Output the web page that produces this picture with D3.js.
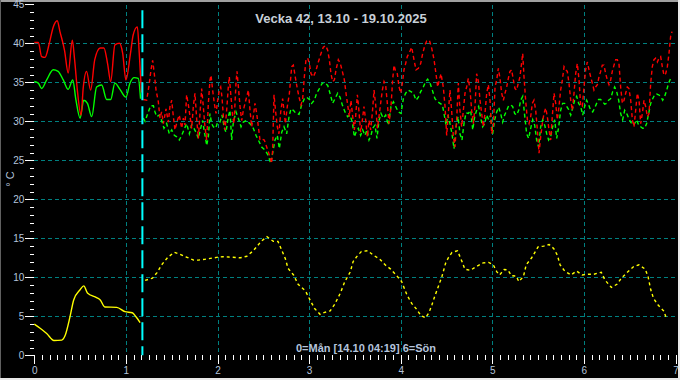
<!DOCTYPE html>
<html>
<head>
<meta charset="utf-8">
<script src="https://cdn.jsdelivr.net/npm/d3@7"></script>
<style>
  html, body { margin: 0; padding: 0; background: #000; }
  svg { display: block; }
</style>
</head>
<body>
<svg id="chart" width="680" height="380"></svg>
<script>
// dag (0 = måndag), °C
const title = 'Vecka 42, 13.10 - 19.10.2025'
const footer = '0=Mån [14.10 04:19] 6=Sön'
const unit = '° C'
const now = 1.18 // 14.10 04:19
const dayTicks = [0, 1, 2, 3, 4, 5, 6, 7]
const tempTicks = [0, 5, 10, 15, 20, 25, 30, 35, 40, 45]

const redActual = [
  [0, 40.1], [0.044, 40.1], [0.08, 38.3], [0.117, 38.2], [0.164, 40.0], [0.207, 42.1], [0.25, 42.9],
  [0.28, 41.5], [0.33, 39.1], [0.37, 36.2], [0.415, 40.4], [0.44, 37.9], [0.47, 34.0], [0.51, 30.8],
  [0.535, 34.4], [0.57, 36.4], [0.615, 34.0], [0.66, 37.9], [0.72, 39.4], [0.76, 39.4], [0.80, 37.4],
  [0.834, 35.1], [0.88, 39.8], [0.93, 40.0], [0.965, 38.7], [1.0, 35.3], [1.05, 38.7], [1.08, 41.1],
  [1.125, 42.1], [1.146, 38.7], [1.17, 33.7]
]
const greenActual = [
  [0, 35.1], [0.044, 34.9], [0.08, 34.2], [0.135, 35.3], [0.207, 36.6], [0.26, 36.4], [0.316, 35.3],
  [0.37, 34.1], [0.42, 35.3], [0.455, 32.7], [0.5, 30.4], [0.54, 32.7], [0.58, 32.3], [0.627, 30.6],
  [0.68, 34.4], [0.736, 34.65], [0.79, 32.8], [0.834, 32.8], [0.88, 34.9], [0.935, 34.1], [1.0, 33.1],
  [1.045, 34.9], [1.09, 35.6], [1.135, 35.5], [1.16, 32.9]
]
const yellowActual = [
  [0, 4.0], [0.06, 3.5], [0.135, 2.8], [0.215, 1.9], [0.30, 1.95], [0.335, 2.5], [0.39, 4.95],
  [0.43, 7.1], [0.5, 8.4], [0.54, 8.9], [0.58, 8.0], [0.68, 7.4], [0.72, 7.1], [0.77, 6.2],
  [0.9, 6.15], [0.99, 5.6], [1.07, 5.45], [1.11, 4.95], [1.155, 4.2]
]

const redForecast = [
  [1.190, 32.8], [1.227, 32.7], [1.256, 34.9], [1.274, 36.6], [1.292, 37.8], [1.310, 36.1], [1.329, 34.0],
  [1.354, 32.5], [1.372, 30.4], [1.390, 31.2], [1.409, 29.7], [1.438, 31.6], [1.463, 29.9], [1.481, 31.9],
  [1.500, 32.7], [1.518, 30.6], [1.536, 28.9], [1.562, 30.1], [1.583, 30.8], [1.609, 29.1], [1.627, 30.4],
  [1.645, 29.5], [1.663, 33.4], [1.682, 32.1], [1.700, 30.6], [1.718, 29.1], [1.736, 31.9], [1.754, 33.6],
  [1.772, 30.4], [1.791, 27.8], [1.809, 31.0], [1.827, 34.2], [1.845, 31.9], [1.863, 29.3], [1.882, 27.6],
  [1.900, 32.3], [1.918, 35.3], [1.929, 35.9], [1.947, 34.0], [1.965, 32.3], [1.984, 31.0], [2.002, 32.7],
  [2.020, 34.0], [2.035, 34.4], [2.049, 33.1], [2.064, 30.6], [2.082, 28.9], [2.100, 31.4], [2.118, 34.4],
  [2.129, 35.7], [2.144, 33.6], [2.166, 30.6], [2.180, 29.7], [2.202, 34.9], [2.213, 36.4], [2.231, 34.0],
  [2.246, 31.9], [2.264, 30.1], [2.282, 31.4], [2.300, 32.3], [2.318, 33.1], [2.337, 34.0], [2.355, 31.4],
  [2.373, 29.3], [2.391, 30.6], [2.409, 32.3], [2.428, 31.0], [2.446, 29.3], [2.464, 27.6], [2.489, 27.7],
  [2.511, 27.6], [2.537, 26.7], [2.555, 26.1], [2.573, 25.4], [2.591, 24.6], [2.602, 26.3], [2.617, 33.4],
  [2.635, 31.2], [2.653, 29.3], [2.671, 28.4], [2.690, 31.2], [2.711, 32.9], [2.726, 31.4], [2.741, 29.7],
  [2.762, 31.9], [2.784, 33.5], [2.810, 37.0], [2.828, 37.2], [2.846, 35.9], [2.868, 34.4], [2.890, 33.1],
  [2.912, 32.1], [2.930, 32.9], [2.948, 35.7], [2.966, 37.9], [2.984, 38.1], [3.003, 37.4], [3.021, 36.1],
  [3.046, 35.7], [3.072, 36.4], [3.101, 37.6], [3.130, 38.7], [3.155, 39.5], [3.181, 39.7], [3.203, 39.1],
  [3.221, 37.9], [3.239, 36.1], [3.257, 35.1], [3.276, 35.3], [3.294, 36.6], [3.319, 37.9], [3.341, 37.4],
  [3.363, 36.4], [3.385, 35.3], [3.403, 33.6], [3.421, 32.1], [3.439, 30.6], [3.457, 32.7], [3.476, 30.6],
  [3.494, 28.9], [3.508, 30.6], [3.527, 33.4], [3.545, 31.2], [3.563, 28.6], [3.581, 30.1], [3.599, 31.9],
  [3.618, 30.1], [3.636, 28.0], [3.654, 30.1], [3.672, 28.9], [3.690, 31.0], [3.709, 34.0], [3.727, 32.1],
  [3.745, 29.1], [3.763, 30.6], [3.781, 32.3], [3.800, 34.0], [3.818, 35.1], [3.836, 34.6], [3.854, 32.3],
  [3.872, 29.7], [3.894, 31.9], [3.912, 35.3], [3.927, 37.2], [3.945, 36.4], [3.963, 36.1], [3.982, 34.4],
  [4.000, 33.6], [4.018, 34.9], [4.036, 36.6], [4.054, 37.4], [4.072, 38.3], [4.094, 38.8], [4.120, 39.5],
  [4.145, 37.9], [4.167, 36.6], [4.193, 36.8], [4.218, 37.4], [4.240, 38.7], [4.265, 39.8], [4.284, 40.3],
  [4.313, 40.4], [4.338, 39.4], [4.364, 37.9], [4.385, 36.1], [4.404, 34.4], [4.422, 35.3], [4.440, 36.1],
  [4.465, 34.4], [4.484, 31.9], [4.502, 28.2], [4.520, 31.0], [4.538, 34.0], [4.556, 31.4], [4.575, 28.0],
  [4.593, 26.7], [4.611, 30.2], [4.629, 34.9], [4.647, 31.4], [4.666, 29.3], [4.684, 31.4], [4.702, 33.6],
  [4.720, 34.4], [4.738, 35.5], [4.757, 34.0], [4.775, 31.4], [4.793, 29.7], [4.811, 31.9], [4.829, 36.1],
  [4.848, 35.1], [4.866, 32.7], [4.884, 31.0], [4.902, 29.3], [4.920, 31.0], [4.939, 33.6], [4.957, 34.7],
  [4.975, 32.7], [4.993, 28.4], [5.011, 29.3], [5.030, 34.4], [5.048, 35.3], [5.066, 36.8], [5.084, 35.5],
  [5.102, 33.6], [5.121, 32.7], [5.139, 33.6], [5.157, 34.4], [5.175, 35.5], [5.193, 36.4], [5.211, 36.6],
  [5.230, 35.3], [5.248, 34.2], [5.266, 34.0], [5.284, 34.9], [5.302, 35.7], [5.321, 37.6], [5.332, 38.7],
  [5.346, 35.7], [5.364, 32.7], [5.383, 30.2], [5.401, 29.7], [5.419, 30.6], [5.437, 32.3], [5.455, 32.7],
  [5.474, 31.4], [5.492, 28.9], [5.510, 25.9], [5.528, 28.0], [5.546, 29.7], [5.564, 31.0], [5.583, 31.7],
  [5.601, 30.6], [5.619, 28.9], [5.637, 27.6], [5.655, 30.6], [5.674, 33.6], [5.692, 32.3], [5.710, 30.2],
  [5.728, 31.9], [5.746, 34.0], [5.765, 35.3], [5.783, 37.0], [5.801, 36.6], [5.819, 36.4], [5.837, 34.9],
  [5.856, 32.7], [5.874, 31.4], [5.892, 33.6], [5.910, 36.1], [5.928, 37.4], [5.947, 35.3], [5.965, 31.9],
  [5.983, 31.9], [6.001, 34.4], [6.019, 36.6], [6.037, 37.6], [6.056, 36.6], [6.074, 35.7], [6.092, 34.9],
  [6.110, 34.0], [6.128, 34.4], [6.147, 34.7], [6.165, 35.7], [6.183, 36.4], [6.201, 37.2], [6.219, 37.2],
  [6.238, 36.1], [6.256, 35.3], [6.274, 34.7], [6.292, 35.3], [6.310, 36.4], [6.329, 37.2], [6.347, 37.9],
  [6.365, 37.9], [6.383, 37.4], [6.401, 34.4], [6.420, 32.3], [6.438, 32.7], [6.456, 33.6], [6.474, 34.4],
  [6.492, 34.2], [6.511, 32.7], [6.529, 30.2], [6.547, 29.3], [6.565, 31.4], [6.583, 33.6], [6.602, 32.7],
  [6.620, 29.7], [6.638, 31.0], [6.656, 32.7], [6.674, 31.9], [6.693, 30.6], [6.711, 31.0], [6.729, 34.9],
  [6.747, 37.0], [6.765, 37.9], [6.783, 38.1], [6.802, 37.6], [6.820, 38.1], [6.838, 38.3], [6.856, 37.0],
  [6.874, 35.9], [6.893, 36.1], [6.911, 37.0], [6.929, 38.7], [6.947, 40.9], [6.962, 41.5]
]

const greenForecast = [
  [1.190, 30.4], [1.209, 30.0], [1.245, 31.2], [1.270, 32.0], [1.300, 32.0], [1.318, 31.2], [1.336, 30.6],
  [1.365, 30.8], [1.390, 30.1], [1.416, 29.1], [1.445, 29.7], [1.474, 28.4], [1.500, 28.9], [1.529, 28.2],
  [1.554, 28.0], [1.583, 27.6], [1.609, 28.2], [1.634, 28.9], [1.663, 29.7], [1.693, 28.4], [1.718, 29.5],
  [1.743, 29.1], [1.765, 28.6], [1.791, 27.8], [1.816, 29.1], [1.838, 30.1], [1.853, 28.9], [1.882, 26.9],
  [1.900, 28.0], [1.918, 31.0], [1.936, 29.7], [1.955, 29.3], [1.980, 29.1], [2.002, 29.9], [2.027, 29.9],
  [2.049, 30.8], [2.075, 29.1], [2.093, 28.6], [2.118, 30.6], [2.136, 31.4], [2.155, 27.6], [2.173, 29.9],
  [2.202, 31.2], [2.227, 30.4], [2.257, 29.3], [2.282, 29.9], [2.318, 30.1], [2.355, 29.7], [2.391, 29.1],
  [2.420, 28.2], [2.446, 27.6], [2.482, 26.7], [2.519, 26.3], [2.555, 25.6], [2.580, 24.6], [2.602, 25.9],
  [2.628, 27.6], [2.653, 28.2], [2.675, 26.5], [2.701, 28.6], [2.726, 29.3], [2.755, 28.4], [2.781, 30.6],
  [2.802, 31.6], [2.828, 31.4], [2.857, 31.0], [2.890, 30.9], [2.919, 32.1], [2.948, 32.9], [2.973, 33.1],
  [3.003, 32.8], [3.028, 32.3], [3.057, 32.7], [3.083, 33.6], [3.112, 34.2], [3.144, 34.9], [3.174, 34.9],
  [3.203, 34.6], [3.228, 33.6], [3.257, 32.3], [3.283, 32.9], [3.312, 33.6], [3.337, 33.1], [3.363, 32.1],
  [3.392, 31.2], [3.421, 30.6], [3.446, 30.8], [3.472, 29.9], [3.494, 28.0], [3.512, 28.6], [3.537, 29.1],
  [3.563, 28.2], [3.585, 28.9], [3.610, 28.2], [3.632, 28.9], [3.654, 27.6], [3.676, 28.2], [3.694, 29.1],
  [3.719, 29.5], [3.741, 27.8], [3.763, 30.1], [3.785, 31.0], [3.810, 30.4], [3.836, 30.8], [3.865, 29.5],
  [3.894, 31.9], [3.920, 32.5], [3.945, 31.9], [3.974, 31.2], [4.003, 31.0], [4.029, 32.9], [4.054, 33.6],
  [4.083, 34.0], [4.112, 33.8], [4.138, 33.6], [4.167, 32.7], [4.193, 33.1], [4.218, 33.8], [4.247, 34.4],
  [4.273, 35.1], [4.294, 35.4], [4.320, 34.9], [4.345, 34.0], [4.374, 32.9], [4.404, 32.5], [4.429, 32.3],
  [4.455, 32.1], [4.473, 31.0], [4.495, 29.5], [4.516, 30.8], [4.538, 29.7], [4.560, 28.4], [4.582, 26.5],
  [4.604, 29.3], [4.626, 30.6], [4.647, 28.4], [4.669, 27.6], [4.691, 29.7], [4.713, 31.1], [4.738, 31.0],
  [4.764, 31.4], [4.786, 28.9], [4.808, 30.6], [4.829, 31.4], [4.851, 31.9], [4.873, 30.4], [4.895, 29.3],
  [4.917, 29.7], [4.938, 30.8], [4.960, 30.2], [4.982, 30.8], [5.004, 28.4], [5.026, 30.2], [5.048, 31.2],
  [5.070, 31.8], [5.091, 31.0], [5.113, 29.9], [5.135, 30.8], [5.157, 31.4], [5.179, 32.0], [5.201, 32.1],
  [5.222, 31.9], [5.244, 31.0], [5.266, 30.8], [5.288, 31.4], [5.310, 32.7], [5.332, 33.2], [5.353, 30.8],
  [5.375, 28.4], [5.397, 27.8], [5.419, 29.1], [5.441, 30.2], [5.463, 29.5], [5.484, 27.6], [5.506, 26.7],
  [5.528, 29.3], [5.550, 30.2], [5.572, 29.5], [5.594, 28.4], [5.615, 27.6], [5.637, 28.0], [5.659, 29.3],
  [5.681, 30.2], [5.703, 27.8], [5.725, 29.3], [5.746, 31.4], [5.768, 32.3], [5.790, 32.3], [5.812, 31.9],
  [5.834, 31.5], [5.856, 30.8], [5.877, 31.7], [5.899, 32.7], [5.921, 33.2], [5.943, 32.3], [5.965, 31.9],
  [5.987, 30.8], [6.008, 31.9], [6.030, 32.7], [6.052, 32.1], [6.074, 31.4], [6.096, 31.2], [6.118, 31.7],
  [6.139, 32.3], [6.161, 32.8], [6.183, 32.8], [6.205, 32.5], [6.227, 32.2], [6.249, 32.3], [6.270, 32.7],
  [6.292, 32.9], [6.314, 33.8], [6.336, 34.4], [6.358, 33.8], [6.380, 32.7], [6.401, 31.0], [6.423, 30.2],
  [6.445, 31.4], [6.467, 31.0], [6.489, 30.4], [6.511, 29.9], [6.532, 29.5], [6.554, 29.7], [6.576, 30.2],
  [6.598, 29.5], [6.620, 29.3], [6.642, 29.1], [6.663, 29.1], [6.685, 29.7], [6.707, 31.0], [6.729, 32.3],
  [6.751, 32.9], [6.773, 33.4], [6.794, 33.5], [6.816, 33.4], [6.838, 33.2], [6.860, 32.7], [6.882, 33.2],
  [6.904, 34.0], [6.925, 34.9], [6.947, 35.5]
]

const yellowForecast = [
  [1.21, 9.6], [1.29, 9.9], [1.34, 10.6], [1.39, 11.6], [1.46, 12.6], [1.53, 13.2], [1.59, 12.95],
  [1.66, 12.6], [1.74, 12.2], [1.79, 12.2], [1.86, 12.3], [1.99, 12.55], [2.06, 12.65], [2.12, 12.6],
  [2.25, 12.5], [2.32, 12.7], [2.39, 13.4], [2.48, 14.65], [2.54, 15.2], [2.61, 14.6], [2.66, 14.6],
  [2.70, 13.5], [2.74, 12.4], [2.77, 11.15], [2.83, 10.3], [2.88, 9.1], [2.96, 8.25], [3.01, 7.1],
  [3.06, 6.0], [3.12, 5.25], [3.17, 5.5], [3.23, 5.7], [3.28, 6.55], [3.34, 7.95], [3.39, 9.45],
  [3.45, 10.7], [3.48, 12.0], [3.52, 12.65], [3.57, 13.3], [3.64, 13.4], [3.70, 12.85], [3.77, 12.35],
  [3.83, 11.6], [3.89, 11.05], [3.95, 10.3], [4.01, 9.45], [4.07, 7.7], [4.12, 6.65], [4.17, 5.95],
  [4.22, 5.1], [4.27, 4.8], [4.31, 5.5], [4.34, 6.45], [4.37, 7.5], [4.41, 8.8], [4.45, 10.1],
  [4.49, 11.8], [4.52, 12.5], [4.56, 13.2], [4.62, 13.4], [4.67, 12.0], [4.70, 11.05], [4.76, 10.9],
  [4.83, 11.4], [4.90, 11.85], [4.96, 11.9], [5.01, 11.6], [5.05, 10.7], [5.08, 10.3], [5.13, 11.0],
  [5.17, 10.95], [5.21, 10.2], [5.26, 10.15], [5.29, 9.45], [5.34, 10.1], [5.37, 11.6], [5.43, 12.5],
  [5.50, 13.9], [5.56, 14.0], [5.62, 14.2], [5.67, 13.7], [5.71, 12.85], [5.74, 11.6], [5.79, 10.8],
  [5.86, 10.3], [5.92, 10.8], [5.98, 10.3], [6.05, 10.4], [6.11, 10.4], [6.19, 10.65], [6.23, 9.65],
  [6.30, 8.7], [6.36, 9.1], [6.41, 9.9], [6.48, 10.7], [6.54, 11.35], [6.60, 11.6], [6.67, 11.05],
  [6.70, 10.1], [6.73, 8.4], [6.76, 7.3], [6.81, 6.45], [6.87, 5.7], [6.90, 4.8]
]

const W = 680
const H = 380
const svg = d3.select('#chart')
const x = d3.scaleLinear().domain([0, 7]).range([34.3, 675.5]) // dagar
const y = d3.scaleLinear().domain([0, 45]).range([355.3, 4.3]) // °C
const textColor = '#b4c4dc'
const font = 'Liberation Sans, Arial, sans-serif'

// bakgrund + ram
svg.append('rect').attr('width', W).attr('height', H).attr('fill', '#000')
svg.append('line').attr('x1', 0).attr('x2', W).attr('y1', 1).attr('y2', 1).attr('stroke', '#a0a0a0').attr('stroke-width', 2)
svg.append('line').attr('x1', 0.5).attr('x2', 0.5).attr('y1', 0).attr('y2', H).attr('stroke', '#606060')
svg.append('line').attr('x1', 679).attr('x2', 679).attr('y1', 0).attr('y2', H).attr('stroke', '#e8e8e8').attr('stroke-width', 2)
svg.append('line').attr('x1', 0).attr('x2', W).attr('y1', 379).attr('y2', 379).attr('stroke', '#e8e8e8').attr('stroke-width', 2)

// rutnät
const grid = svg.append('g').attr('stroke', '#008080').attr('stroke-dasharray', '4,3').attr('shape-rendering', 'crispEdges')
grid.selectAll('.h').data(tempTicks.filter(t => t > 0 && t < 45)).join('line')
  .attr('x1', x(0)).attr('x2', x(7)).attr('y1', d => Math.round(y(d)) + 0.5).attr('y2', d => Math.round(y(d)) + 0.5)
grid.selectAll('.v').data(dayTicks.filter(t => t > 0 && t < 7)).join('line')
  .attr('x1', d => Math.round(x(d)) + 0.5).attr('x2', d => Math.round(x(d)) + 0.5).attr('y1', y(45) + 1).attr('y2', y(0))

// axlar
const styleAxis = g => {
  g.select('.domain').remove()
  g.selectAll('line').attr('stroke', '#ffffff').attr('shape-rendering', 'crispEdges')
  g.selectAll('text').attr('fill', textColor).attr('font-family', font).attr('font-size', 10)
}
svg.append('g').attr('transform', `translate(${x(0)},0)`)
  .call(d3.axisLeft(y).tickValues(d3.range(0, 46)).tickSize(4).tickFormat(''))
  .call(styleAxis)
svg.append('g').attr('transform', `translate(${x(0)},0)`)
  .call(d3.axisLeft(y).tickValues(tempTicks).tickSize(9).tickPadding(1).tickFormat(d3.format('d')))
  .call(styleAxis)
svg.append('g').attr('transform', `translate(0,${y(0)})`)
  .call(d3.axisBottom(x).tickValues(d3.range(0, 85).map(i => i / 12)).tickSize(5).tickFormat(''))
  .call(styleAxis)
svg.append('g').attr('transform', `translate(0,${y(0)})`)
  .call(d3.axisBottom(x).tickValues(dayTicks).tickSize(9).tickPadding(3).tickFormat(d3.format('d')))
  .call(styleAxis)

// linjer
const smooth = d3.line().x(d => x(d[0])).y(d => y(d[1])).curve(d3.curveMonotoneX)
const line = d3.line().x(d => x(d[0])).y(d => y(d[1]))
const series = [
  [yellowActual, '#ffff00', null, smooth], [greenActual, '#00ff00', null, smooth], [redActual, '#ff0000', null, smooth],
  [yellowForecast, '#ffff00', '3,3', line], [greenForecast, '#00ff00', '4,3', line], [redForecast, '#ff0000', '4,3', line]
]
series.forEach(([data, color, dash, gen]) => {
  svg.append('path').datum(data)
    .attr('d', gen)
    .attr('fill', 'none')
    .attr('stroke', color)
    .attr('stroke-width', 1.4)
    .attr('stroke-dasharray', dash)
})

// nu-linje
svg.append('line')
  .attr('x1', x(now)).attr('x2', x(now)).attr('y1', y(45) + 6).attr('y2', y(0))
  .attr('stroke', '#00ffff').attr('stroke-width', 2).attr('stroke-dasharray', '18,6')

// texter
svg.append('text').attr('x', 341).attr('y', 23).attr('text-anchor', 'middle')
  .attr('fill', '#c8d0d8').attr('font-family', font)
  .attr('font-size', 13).attr('font-weight', 'bold').text(title)
svg.append('text').attr('x', 366).attr('y', 352).attr('text-anchor', 'middle')
  .attr('fill', textColor).attr('font-family', font)
  .attr('font-size', 11).attr('font-weight', 'bold').text(footer)
svg.append('text').attr('transform', 'translate(14,179) rotate(-90)').attr('text-anchor', 'middle')
  .attr('fill', textColor).attr('font-family', font)
  .attr('font-size', 11).text(unit)
</script>
</body>
</html>
